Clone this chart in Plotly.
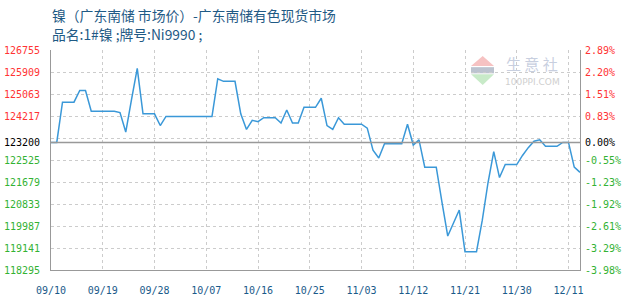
import plotly.graph_objects as go

# ---- data ----
values = [
    123200, 123200, 124750, 124750, 124750, 125200, 125200, 124400, 124400, 124400,
    124400, 124400, 124350, 123600, 124850, 126050, 124300, 124300, 124300, 123850,
    124200, 124200, 124200, 124200, 124200, 124200, 124200, 124200, 124200, 125650,
    125550, 125550, 125550, 124300, 123700, 124050, 124000, 124150, 124150, 124150,
    123950, 124450, 123950, 123950, 124550, 124550, 124550, 124900, 123850, 123700,
    124150, 123900, 123900, 123900, 123900, 123750, 122900, 122600, 123150, 123150,
    123150, 123150, 123900, 123100, 123300, 122250, 122250, 122250, 120900, 119600,
    120100, 120600, 119000, 119000, 119000, 120200, 121650, 122850, 121850, 122350,
    122350, 122350, 122700, 123000, 123250, 123300, 123050, 123050, 123050, 123200,
    123200, 122250, 122050,
]
x_idx = list(range(len(values)))

date_labels = ["09/10", "09/19", "09/28", "10/07", "10/16", "10/25",
               "11/03", "11/12", "11/21", "11/30", "12/11"]
date_pos = [0, 9, 18, 27, 36, 45, 54, 63, 72, 81, 90]

BASE = 123200
grid_vals = [118295, 119141, 119987, 120833, 121679, 122525,
             123371, 124217, 125063, 125909, 126755]
label_vals = [118295, 119141, 119987, 120833, 121679, 122525,
              123200, 124217, 125063, 125909, 126755]

RED = "#ff3333"
GREEN = "#33b233"
BLACK = "#000000"


def col(v):
    if v > BASE:
        return RED
    if v < BASE:
        return GREEN
    return BLACK


left_text = [f'<span style="color:{col(v)}">{v}</span>' for v in label_vals]
right_text = [f'<span style="color:{col(v)}">{(v - BASE) / BASE * 100:.2f}%</span>'
              for v in label_vals]

YMIN, YMAX = grid_vals[0], grid_vals[-1]

fig = go.Figure()
fig.add_trace(go.Scatter(x=x_idx, y=values, mode="lines",
                         line=dict(color="#3a98d8", width=1.5),
                         hoverinfo="y", showlegend=False))
# invisible traces to attach the label axes
fig.add_trace(go.Scatter(x=[0], y=[BASE], yaxis="y2", mode="markers",
                         marker=dict(opacity=0), showlegend=False, hoverinfo="skip"))
fig.add_trace(go.Scatter(x=[0], y=[BASE], yaxis="y3", mode="markers",
                         marker=dict(opacity=0), showlegend=False, hoverinfo="skip"))

mono = dict(family="DejaVu Sans Mono", size=10)

fig.update_layout(
    width=630, height=300,
    margin=dict(l=51, r=50, t=50, b=30, autoexpand=False),
    paper_bgcolor="white", plot_bgcolor="white",
    xaxis=dict(
        range=[0, len(values) - 1],
        tickvals=date_pos, ticktext=date_labels,
        tickfont=dict(family="DejaVu Sans Mono", size=10, color="#1a5a8a"),
        showgrid=True, gridcolor="#cccccc", griddash="3px,3px", gridwidth=1,
        showline=True, linecolor="#999999", linewidth=1,
        ticks="outside", ticklen=11, tickcolor="rgba(0,0,0,0)",
        zeroline=False, fixedrange=True, automargin=False,
    ),
    yaxis=dict(
        range=[YMIN, YMAX],
        tickvals=grid_vals, showticklabels=False,
        showgrid=True, gridcolor="#cccccc", griddash="3px,3px", gridwidth=1,
        showline=True, linecolor="#999999", linewidth=1,
        zeroline=False, ticks="", automargin=False,
    ),
    yaxis3=dict(
        range=[YMIN, YMAX], overlaying="y", side="left", anchor="x",
        tickvals=label_vals, ticktext=left_text, tickfont=mono,
        showgrid=False, zeroline=False, showline=False,
        ticks="outside", ticklen=8, tickcolor="rgba(0,0,0,0)", automargin=False,
    ),
    yaxis2=dict(
        range=[YMIN, YMAX], overlaying="y", side="right", anchor="x",
        tickvals=label_vals, ticktext=right_text, tickfont=mono,
        showgrid=False, zeroline=False,
        showline=True, linecolor="#999999", linewidth=1,
        ticks="outside", ticklen=2, tickcolor="rgba(0,0,0,0)", automargin=False,
    ),
    shapes=[
        dict(type="line", xref="paper", x0=0, x1=1, yref="y", y0=BASE, y1=BASE,
             line=dict(color="#999999", width=1.5), layer="above"),
        # watermark logo
        dict(type="path", xref="paper", yref="paper",
             path="M 0.794 0.9273 L 0.8374 0.9273 L 0.8161 0.9727 Z",
             fillcolor="#f6c2c2", line=dict(width=0), layer="below"),
        dict(type="rect", xref="paper", yref="paper",
             x0=0.794, x1=0.8374, y0=0.894, y1=0.922,
             fillcolor="#bcc3cf", line=dict(width=0), layer="below"),
        dict(type="path", xref="paper", yref="paper",
             path="M 0.794 0.8895 L 0.8374 0.8895 L 0.8161 0.8409 Z",
             fillcolor="#c8eac8", line=dict(width=0), layer="below"),
    ],
    annotations=[
        dict(text="镍（广东南储 市场价）-广东南储有色现货市场", xref="paper", yref="paper",
             x=-0.002, y=1.159, xanchor="left", yanchor="middle", showarrow=False,
             font=dict(family="Noto Sans CJK SC", size=13.8, color="#1f5a85")),
        dict(text="品名:1#镍 ;牌号:Ni9990 ;", xref="paper", yref="paper",
             x=-0.002, y=1.073, xanchor="left", yanchor="middle", showarrow=False,
             font=dict(family="Noto Sans CJK SC", size=13.8, color="#1f5a85")),
        dict(text="生 意 社", xref="paper", yref="paper",
             x=0.9087, y=0.940, xanchor="center", yanchor="middle", showarrow=False,
             font=dict(family="Noto Sans CJK SC", size=15, color="#c8cfdf")),
        dict(text="100PPI.COM", xref="paper", yref="paper",
             x=0.910, y=0.853, xanchor="center", yanchor="middle", showarrow=False,
             font=dict(family="DejaVu Sans", size=9, color="#cfcfcf")),
    ],
)

fig.write_html("out.html")
